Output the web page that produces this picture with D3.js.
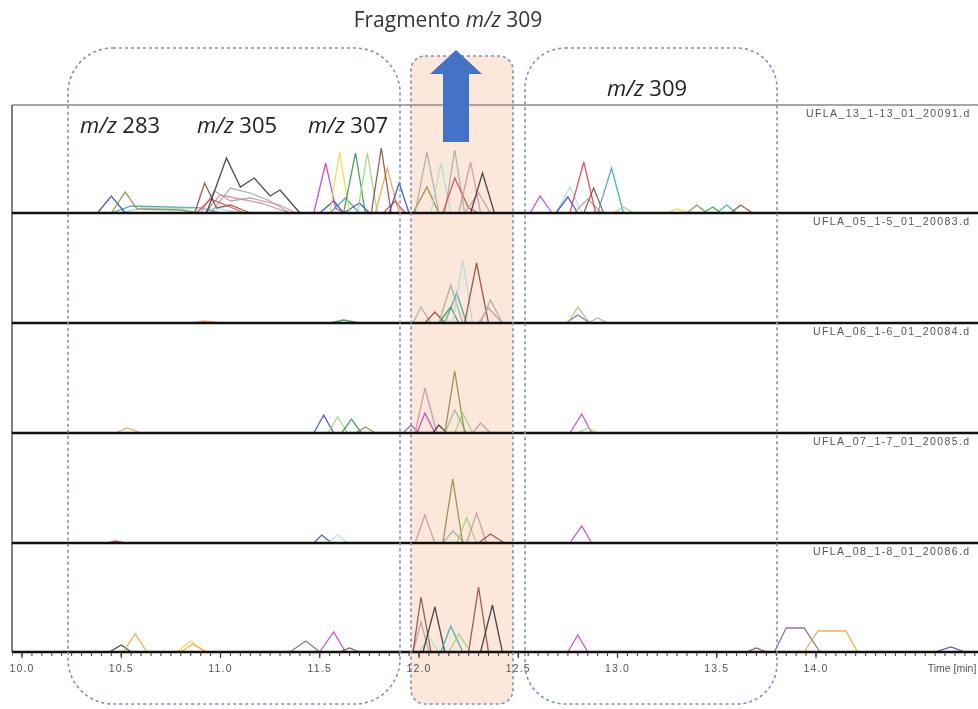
<!DOCTYPE html>
<html><head><meta charset="utf-8">
<script src="https://cdn.jsdelivr.net/npm/d3@7"></script>
<style>html,body{margin:0;padding:0;background:#fff;overflow:hidden}svg{display:block}</style>
</head><body>
<svg id="chart" width="978" height="709"></svg>
<script>
// ---------- DATA ----------
const timeTicks = [10.0, 10.5, 11.0, 11.5, 12.0, 12.5, 13.0, 13.5, 14.0];
const panelNames = ["UFLA_13_1-13_01_20091.d","UFLA_05_1-5_01_20083.d","UFLA_06_1-6_01_20084.d","UFLA_07_1-7_01_20085.d","UFLA_08_1-8_01_20086.d"];
const palette = ['#2d49c0','#2f9a50','#333333','#8a4a3c','#c43cc4','#e2404c','#f2a23e','#e6dc3a','#3aa8a8','#a8dede','#a3aba3','#c893a4','#8c8a3c','#98d474','#7c5fa6'];
const regionLabels = [["283", 80, 133], ["305", 197, 133], ["307", 308, 133], ["309", 607, 96]];

// traces: [colorIndex, [[time, intensity], ...]]
const panel1Traces = [
  [8, [[10.45,0],[10.55,7],[10.9,5],[11.0,0]]],
  [9, [[10.5,0],[10.6,5],[11.0,4],[11.1,0]]],
  [0, [[10.38,0],[10.45,17],[10.52,0]]],
  [12,[[10.45,0],[10.52,21],[10.58,4],[10.8,3],[10.9,0]]],
  [10,[[10.95,0],[11.05,25],[11.15,20],[11.25,12],[11.35,0]]],
  [11,[[10.9,0],[10.97,22],[11.05,12],[11.15,15],[11.3,8],[11.38,0]]],
  [11,[[10.92,0],[11.0,18],[11.1,14],[11.2,10],[11.35,0]]],
  [5, [[10.88,0],[10.95,14],[11.05,6],[11.12,0]]],
  [3, [[10.87,0],[10.92,30],[10.98,5],[11.05,8],[11.15,0]]],
  [2, [[10.93,0],[11.03,55],[11.1,26],[11.17,35],[11.25,17],[11.3,23],[11.4,0]]],
  [8, [[11.55,0],[11.63,15],[11.7,0]]],
  [0, [[11.5,0],[11.57,12],[11.62,0],[11.7,10],[11.75,0]]],
  [6, [[11.78,0],[11.84,45],[11.9,0]]],
  [4, [[11.47,0],[11.53,50],[11.58,5],[11.62,0]]],
  [7, [[11.55,0],[11.6,61],[11.65,0]]],
  [1, [[11.62,0],[11.68,60],[11.73,0]]],
  [13,[[11.69,0],[11.74,60],[11.79,0]]],
  [5, [[11.82,0],[11.88,12],[11.93,0]]],
  [3, [[11.76,0],[11.81,65],[11.86,0]]],
  [0, [[11.85,0],[11.9,30],[11.95,0]]],
  [12,[[11.97,0],[12.04,26],[12.1,0]]],
  [10,[[11.98,0],[12.04,61],[12.1,0]]],
  [9, [[12.06,0],[12.11,50],[12.16,0]]],
  [10,[[12.13,0],[12.18,63],[12.23,0]]],
  [5, [[12.12,0],[12.18,35],[12.25,5],[12.3,0]]],
  [11,[[12.2,0],[12.26,51],[12.31,0]]],
  [11,[[12.23,0],[12.3,20],[12.36,0]]],
  [2, [[12.26,0],[12.32,40],[12.38,0]]],
  [4, [[12.56,0],[12.61,17],[12.67,0]]],
  [9, [[12.69,0],[12.76,26],[12.82,0]]],
  [0, [[12.69,0],[12.75,16],[12.8,0]]],
  [11,[[12.78,0],[12.85,14],[12.92,0]]],
  [5, [[12.76,0],[12.83,51],[12.89,0]]],
  [3, [[12.83,0],[12.88,25],[12.93,0]]],
  [8, [[12.9,0],[12.97,45],[13.03,0]]],
  [13,[[12.98,0],[13.03,6],[13.08,0]]],
  [7, [[13.25,0],[13.3,4],[13.36,0]]],
  [12,[[13.35,0],[13.4,8],[13.45,0]]],
  [1, [[13.43,0],[13.48,6],[13.52,0]]],
  [8, [[13.5,0],[13.55,8],[13.6,0]]],
  [3, [[13.57,0],[13.62,8],[13.68,0]]]
];
const panel2Traces = [
  [6, [[10.85,0],[10.92,2],[11.0,0]]],
  [1, [[11.55,0],[11.62,3],[11.7,0]]],
  [10,[[11.97,0],[12.01,16],[12.06,0]]],
  [3, [[12.03,0],[12.08,11],[12.13,0]]],
  [1, [[12.1,0],[12.16,16],[12.2,0]]],
  [8, [[12.13,0],[12.19,30],[12.24,0]]],
  [10,[[12.1,0],[12.16,38],[12.22,0]]],
  [9, [[12.17,0],[12.22,63],[12.27,0]]],
  [3, [[12.23,0],[12.29,60],[12.35,0]]],
  [11,[[12.3,0],[12.35,15],[12.42,0]]],
  [10,[[12.31,0],[12.36,23],[12.42,0]]],
  [14,[[12.74,0],[12.8,8],[12.86,0]]],
  [13,[[12.75,0],[12.8,16],[12.86,0]]],
  [10,[[12.85,0],[12.9,5],[12.95,0]]]
];
const panel3Traces = [
  [6, [[10.47,0],[10.53,5],[10.6,0]]],
  [0, [[11.47,0],[11.52,18],[11.57,0]]],
  [13,[[11.54,0],[11.59,16],[11.64,0]]],
  [1, [[11.61,0],[11.66,14],[11.71,0]]],
  [12,[[11.68,0],[11.73,6],[11.78,0]]],
  [14,[[11.92,0],[11.96,8],[12.0,0]]],
  [11,[[11.98,0],[12.03,45],[12.09,0]]],
  [4, [[11.99,0],[12.03,20],[12.08,0]]],
  [2, [[12.07,0],[12.1,8],[12.14,0]]],
  [10,[[12.13,0],[12.18,23],[12.24,0]]],
  [12,[[12.13,0],[12.18,62],[12.23,0]]],
  [13,[[12.18,0],[12.22,20],[12.27,0]]],
  [11,[[12.27,0],[12.31,10],[12.36,0]]],
  [4, [[12.76,0],[12.82,19],[12.87,0]]],
  [13,[[12.8,0],[12.85,5],[12.9,0]]]
];
const panel4Traces = [
  [5, [[10.43,0],[10.47,2],[10.52,0]]],
  [0, [[11.47,0],[11.51,8],[11.56,0]]],
  [9, [[11.54,0],[11.59,8],[11.64,0]]],
  [11,[[11.98,0],[12.03,28],[12.08,0]]],
  [10,[[12.12,0],[12.17,12],[12.23,0]]],
  [12,[[12.12,0],[12.17,64],[12.22,0]]],
  [13,[[12.19,0],[12.24,25],[12.29,0]]],
  [11,[[12.24,0],[12.29,30],[12.34,0]]],
  [3, [[12.3,0],[12.36,9],[12.43,0]]],
  [4, [[12.76,0],[12.82,17],[12.87,0]]]
];
const panel5Traces = [
  [2, [[10.44,0],[10.5,7],[10.55,0]]],
  [6, [[10.51,0],[10.57,18],[10.63,0]]],
  [7, [[10.78,0],[10.85,11],[10.92,0]]],
  [6, [[10.8,0],[10.86,8],[10.93,0]]],
  [14,[[11.35,0],[11.43,11],[11.5,0]]],
  [4, [[11.5,0],[11.57,20],[11.63,0]]],
  [3, [[11.6,0],[11.65,4],[11.7,0]]],
  [11,[[11.97,0],[12.01,30],[12.05,0]]],
  [3, [[11.97,0],[12.01,55],[12.06,0]]],
  [9, [[12.0,0],[12.05,15],[12.1,0]]],
  [2, [[12.02,0],[12.08,45],[12.13,0]]],
  [8, [[12.11,0],[12.16,26],[12.22,0]]],
  [13,[[12.15,0],[12.2,18],[12.26,0]]],
  [3, [[12.25,0],[12.3,65],[12.35,0]]],
  [2, [[12.31,0],[12.37,47],[12.42,0]]],
  [4, [[12.75,0],[12.8,17],[12.85,0]]],
  [3, [[13.65,0],[13.7,4],[13.75,0]]],
  [14,[[13.79,0],[13.85,24],[13.94,24],[14.02,0]]],
  [6, [[13.94,0],[14.01,21],[14.15,21],[14.21,0]]],
  [0, [[14.6,0],[14.68,5],[14.75,0]]]
];
const panelTraces = [panel1Traces, panel2Traces, panel3Traces, panel4Traces, panel5Traces];

// ---------- LAYOUT ----------
const svg = d3.select("#chart");
const left = 12, right = 978;
const baselines = [213, 323, 433, 543, 652];
const topY = 105;
const x = d3.scaleLinear().domain([10, 14]).range([22, 816]);

const defs = svg.append("defs");
defs.append("clipPath").attr("id","plotclip")
  .append("rect").attr("x", left).attr("y", 0).attr("width", right-left).attr("height", 709);
defs.append("filter").attr("id", "soft").append("feGaussianBlur").attr("stdDeviation", 0.35);

// peach highlight fill
svg.append("rect").attr("x", 411).attr("y", 56).attr("width", 102).attr("height", 648)
  .attr("rx", 14).attr("fill", "#fce7db");

// frame
svg.append("line").attr("x1", left).attr("x2", right).attr("y1", topY).attr("y2", topY)
  .attr("stroke", "#8a8a8a").attr("stroke-width", 1.5);
svg.append("line").attr("x1", left).attr("x2", left).attr("y1", topY).attr("y2", baselines[4])
  .attr("stroke", "#555").attr("stroke-width", 1.5);

const g = svg.append("g").attr("clip-path", "url(#plotclip)");
panelTraces.forEach((traces, i) => {
  const y = d3.scaleLinear().domain([0, 100]).range([baselines[i], baselines[i] - 100]);
  const line = d3.line().x(d => x(d[0])).y(d => y(d[1]));
  g.append("g").attr("filter", "url(#soft)").selectAll(null).data(traces).enter().append("path")
    .attr("d", d => line(d[1]))
    .attr("fill", "none")
    .attr("stroke", d => palette[d[0]])
    .attr("stroke-width", 1.3)
    .attr("stroke-linejoin", "miter")
    .attr("opacity", 0.88);
  // baseline
  g.append("line").attr("x1", left).attr("x2", right).attr("y1", baselines[i]).attr("y2", baselines[i])
    .attr("stroke", "#111").attr("stroke-width", 2.4);
  // sample label
  svg.append("text").attr("x", i === 0 ? 806 : 813).attr("y", (i === 0 ? topY : baselines[i-1]) + 12)
    .attr("font-family", "Liberation Sans, Arial, sans-serif").attr("font-size", 10.5)
    .attr("letter-spacing", 1.4).attr("fill", "#555").text(panelNames[i]);
});

// x axis ticks
const minor = d3.range(9.95, 14.85, 0.05);
g.selectAll(null).data(minor).enter().append("line")
  .attr("x1", d => x(d)).attr("x2", d => x(d)).attr("y1", baselines[4]).attr("y2", baselines[4] + 4)
  .attr("stroke", "#333").attr("stroke-width", 1);
g.selectAll(null).data(timeTicks).enter().append("line")
  .attr("x1", d => x(d)).attr("x2", d => x(d)).attr("y1", baselines[4]).attr("y2", baselines[4] + 6)
  .attr("stroke", "#333").attr("stroke-width", 1.2);
svg.selectAll(null).data(timeTicks).enter().append("text")
  .attr("x", d => x(d)).attr("y", 672).attr("text-anchor", "middle")
  .attr("font-family", "Liberation Sans, Arial, sans-serif").attr("font-size", 10.5)
  .attr("letter-spacing", 1.2).attr("fill", "#555").text(d => d.toFixed(1));
svg.append("text").attr("x", 952).attr("y", 672).attr("text-anchor", "middle")
  .attr("font-family", "Liberation Sans, Arial, sans-serif").attr("font-size", 10.5)
  .attr("fill", "#555").text("Time [min]");

// dashed rounded boxes
const dash = {stroke: "#7f8fb8", width: 1.6, da: "3,3"};
[[68, 48, 332, 656, 45], [525, 48, 252, 656, 40], [411, 56, 102, 648, 14]].forEach(b => {
  svg.append("rect").attr("x", b[0]).attr("y", b[1]).attr("width", b[2]).attr("height", b[3])
    .attr("rx", b[4]).attr("fill", "none").attr("stroke", dash.stroke)
    .attr("stroke-width", dash.width).attr("stroke-dasharray", dash.da);
});

// arrow
svg.append("path")
  .attr("d", "M443,142 L443,74 L430,74 L456,50 L482,74 L469,74 L469,142 Z")
  .attr("fill", "#4472c4");

// title
const title = svg.append("text").attr("x", 448).attr("y", 27).attr("text-anchor", "middle")
  .attr("font-family", "Open Sans, sans-serif").attr("font-size", 21).attr("fill", "#333");
title.append("tspan").text("Fragmento ");
title.append("tspan").attr("font-style", "italic").text("m/z");
title.append("tspan").text(" 309");

// m/z labels
regionLabels.forEach(l => {
  const t = svg.append("text").attr("x", l[1]).attr("y", l[2])
    .attr("font-family", "Open Sans, sans-serif").attr("font-size", 22).attr("fill", "#222");
  t.append("tspan").attr("font-style", "italic").text("m/z");
  t.append("tspan").text(" " + l[0]);
});
</script>
</body></html>
